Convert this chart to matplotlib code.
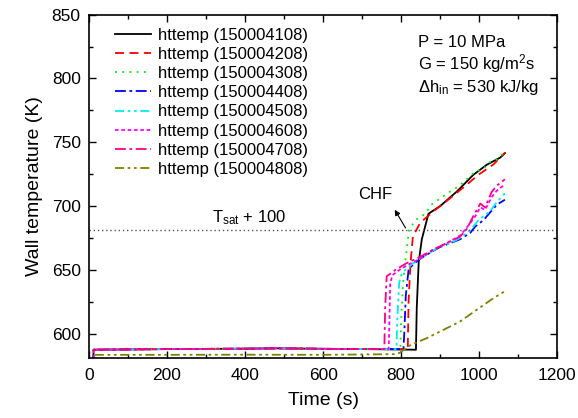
import matplotlib
matplotlib.use("Agg")
import matplotlib.pyplot as plt
from matplotlib.ticker import MultipleLocator

plt.rcParams['font.family'] = ['Liberation Sans', 'DejaVu Sans']
plt.rcParams['mathtext.fontset'] = 'custom'
plt.rcParams['mathtext.rm'] = 'Liberation Sans'
plt.rcParams['mathtext.it'] = 'Liberation Sans'

labels = ["httemp (150004108)", "httemp (150004208)", "httemp (150004308)",
          "httemp (150004408)", "httemp (150004508)", "httemp (150004608)",
          "httemp (150004708)", "httemp (150004808)"]

flat_t = [10, 12, 200, 400, 480, 600, 700]
flat_T = [575, 587.5, 588, 588.3, 588.6, 588.2, 588]

t108 = flat_t + [838, 840, 845, 853, 870, 900, 943, 985, 1020, 1054, 1066]
T108 = flat_T + [587.5, 620, 656, 674, 694, 700, 711.5, 724.5, 732.5, 738, 741.5]

t208 = flat_t + [817, 819, 824, 830, 849, 887, 925, 963, 998, 1036, 1067]
T208 = flat_T + [588, 625, 655, 676, 687, 697, 706, 715.5, 724.5, 732.5, 742]

t308 = flat_t + [798, 800, 805, 812, 820, 836, 862, 877, 900, 924, 947, 968, 990, 1011, 1024, 1044, 1064]
T308 = flat_T + [588, 610, 640, 660, 681, 689, 694, 701, 706, 711, 715.5, 721, 727, 729, 734, 736.5, 742]

t408 = flat_t + [806, 808, 812, 819, 830, 850, 866, 900, 926, 951, 977, 990, 1011, 1045, 1066]
T408 = flat_T + [588, 600, 630, 650, 654, 659, 662, 668, 671, 674, 679, 684, 689, 701, 705]

t508 = flat_t + [788, 790, 795, 800, 810, 830, 850, 866, 900, 926, 951, 977, 998, 1028, 1045, 1066]
T508 = flat_T + [588, 610, 640, 646, 650, 655, 659, 662, 668.5, 671, 675, 681, 689, 696, 703, 710]

t608 = flat_t + [768, 770, 772, 778, 800, 830, 850, 883, 917, 951, 968, 990, 1003, 1015, 1032, 1045, 1066]
T608 = flat_T + [588, 610, 640, 646, 651, 656, 659, 666, 671, 677, 683, 692, 699, 697, 707, 712, 717]

t708 = flat_t + [757, 759, 763, 785, 815, 844, 883, 917, 951, 968, 990, 1003, 1015, 1032, 1045, 1066]
T708 = flat_T + [588, 620, 645, 650, 655.5, 659.5, 666, 671, 676, 682, 695, 702, 699, 711, 716, 721]

t808 = [15, 200, 400, 600, 780, 796, 823, 866, 908, 951, 994, 1037, 1067]
T808 = [583.5, 583.5, 583.6, 583.5, 584, 585, 591, 596.6, 603, 609.6, 618.8, 628, 633.5]

series_t = [t108, t208, t308, t408, t508, t608, t708, t808]
series_T = [T108, T208, T308, T408, T508, T608, T708, T808]

colors = ['black', '#FF0000', '#00F000', '#0000FF', '#00EEEE', '#FF00FF', '#FF0080', '#808000']
styles = ['-', (0, (5, 3)), (0, (1, 3)), (0, (6, 2, 1.5, 2)), (0, (5, 2, 1.5, 2, 1.5, 2)),
          (0, (2, 1.5)), (0, (6, 2, 1.5, 2)), (0, (5, 2, 1.5, 2, 1.5, 2))]

tsat100 = 681

fig = plt.figure(figsize=(5.78, 4.18), dpi=100)
ax = fig.add_axes([0.154, 0.1435, 0.81, 0.8215])

for t, T, c, ls, lab in zip(series_t, series_T, colors, styles, labels):
    ax.plot(t, T, color=c, linestyle=ls, lw=1.3, label=lab)

ax.axhline(tsat100, color='#555555', linestyle=(0, (1, 2)), lw=1.0)

ax.set_xlim(0, 1200)
ax.set_ylim(581, 850)
ax.xaxis.set_major_locator(MultipleLocator(200))
ax.xaxis.set_minor_locator(MultipleLocator(100))
ax.yaxis.set_major_locator(MultipleLocator(50))
ax.yaxis.set_minor_locator(MultipleLocator(25))
ax.tick_params(which='both', direction='in', top=True, right=True, labelsize=12.5)
ax.tick_params(which='major', length=5, width=1)
ax.tick_params(which='minor', length=3, width=1)
ax.tick_params(axis='x', pad=7)
ax.tick_params(axis='y', pad=6)
for s in ax.spines.values():
    s.set_linewidth(1.2)

ax.set_xlabel('Time (s)', fontsize=14, labelpad=7)
ax.set_ylabel('Wall temperature (K)', fontsize=14, labelpad=6)

ax.legend(loc='upper left', bbox_to_anchor=(0.055, 0.962), frameon=False, fontsize=12,
          handlelength=2.2, handletextpad=0.4, labelspacing=0.25, borderpad=0,
          borderaxespad=0)

ax.text(844, 824.9, 'P = 10 MPa', fontsize=12, va='baseline', ha='left')
ax.text(844, 807, r'G = 150 kg/m$^{2}$s', fontsize=12, va='baseline', ha='left')
ax.text(844, 789.3, r'$\Delta$h$_{\mathrm{in}}$ = 530 kJ/kg', fontsize=12, va='baseline', ha='left')

ax.text(315, 687.5, r'T$_{\mathrm{sat}}$ + 100', fontsize=12, va='baseline', ha='left')
ax.text(733, 709, 'CHF', fontsize=12, va='center', ha='center')
ax.annotate('', xy=(780, 699), xytext=(815, 681),
            arrowprops=dict(arrowstyle='-|>', color='black', lw=0.8, mutation_scale=8))

fig.savefig('out.png', dpi=100)
